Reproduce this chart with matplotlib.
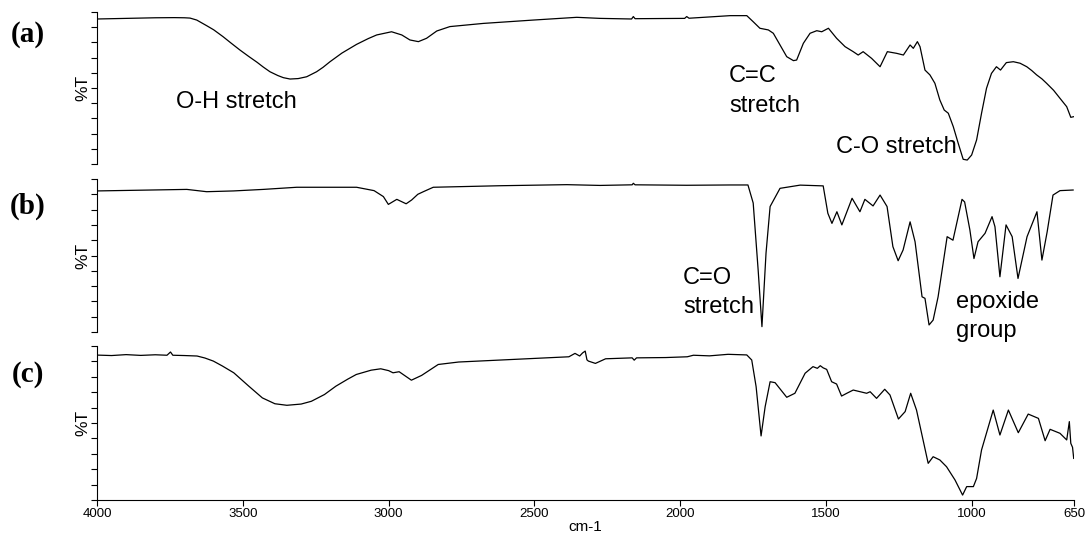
import matplotlib
matplotlib.use('Agg')
from matplotlib import pyplot as plt

# spectrum (a)
wn_a = [4000, 3900, 3800, 3735, 3700, 3681, 3658, 3624, 3600, 3568, 3540, 3510, 3480,
        3451, 3430, 3407, 3380, 3361, 3338, 3310, 3281, 3247, 3225, 3201, 3160, 3110,
        3070, 3041, 2990, 2955, 2927, 2898, 2870, 2835, 2790, 2675, 2504, 2355, 2275,
        2167, 2161, 2155, 1985, 1978, 1970, 1829, 1772, 1750, 1727, 1698, 1681, 1658,
        1635, 1612, 1601, 1578, 1555, 1532, 1515, 1492, 1464, 1435, 1407, 1390, 1373,
        1344, 1315, 1290, 1258, 1235, 1212, 1201, 1187, 1178, 1161, 1144, 1127, 1110,
        1095, 1081, 1064, 1047, 1030, 1016, 1001, 984, 967, 950, 933, 916, 902, 882,
        858, 835, 812, 795, 778, 760, 744, 720, 698, 675, 661, 652]
t_a = [95.4, 95.8, 96.2, 96.3, 96.2, 96.0, 94.7, 91.0, 88.3, 83.8, 79.5, 75.0, 70.8,
       66.9, 63.8, 60.7, 58.2, 56.8, 55.9, 56.2, 57.4, 60.7, 63.6, 67.3, 73.0, 78.7,
       82.5, 84.9, 87.0, 84.9, 81.6, 80.5, 82.7, 87.5, 90.4, 92.5, 94.7, 96.5, 95.8,
       95.4, 97.0, 95.6, 95.8, 97.0, 95.9, 97.6, 97.6, 93.6, 89.3, 88.2, 86.0, 78.3,
       70.6, 68.0, 68.4, 79.4, 86.0, 87.7, 87.0, 89.3, 82.7, 77.2, 73.9, 71.7, 73.9,
       69.5, 64.0, 73.9, 72.8, 71.7, 78.3, 76.1, 80.5, 77.2, 61.8, 58.6, 53.1, 42.1,
       35.5, 33.4, 24.6, 13.6, 3.1, 2.6, 5.9, 15.8, 33.4, 49.8, 59.6, 64.0, 61.8, 66.7,
       67.3, 66.3, 64.0, 61.5, 58.6, 56.0, 53.1, 48.5, 43.2, 37.7, 30.7, 31.1]

# spectrum (b)
wn_b = [4000, 3692, 3624, 3532, 3430, 3315, 3110, 3050, 3018, 3001, 2972, 2940, 2921,
        2900, 2881, 2847, 2618, 2389, 2275, 2165, 2161, 2155, 1978, 1829, 1768, 1750,
        1733, 1720, 1706, 1692, 1658, 1589, 1510, 1494, 1480, 1463, 1446, 1411, 1384,
        1367, 1339, 1315, 1291, 1271, 1253, 1236, 1212, 1195, 1171, 1161, 1147, 1133,
        1116, 1085, 1065, 1034, 1025, 1007, 993, 979, 955, 931, 921, 904, 883, 862, 842,
        811, 777, 760, 742, 722, 698, 653]
t_b = [92.2, 93.2, 91.7, 92.2, 93.2, 94.6, 94.6, 92.4, 88.5, 83.4, 86.7, 83.8, 86.3,
       90.0, 91.7, 94.6, 95.6, 96.3, 95.8, 96.2, 97.2, 96.2, 95.9, 96.1, 96.1, 84.3,
       40.5, 3.5, 51.6, 82.0, 93.9, 96.0, 95.5, 77.6, 71.0, 78.6, 70.0, 87.4, 78.6,
       86.7, 82.4, 89.5, 82.0, 55.8, 46.6, 53.6, 72.0, 59.0, 23.0, 22.0, 4.6, 7.8,
       23.0, 62.3, 60.0, 86.7, 85.0, 66.7, 48.0, 59.0, 64.5, 75.4, 68.8, 36.1, 70.0,
       62.3, 35.0, 62.3, 78.6, 47.0, 65.5, 89.5, 92.4, 92.8]

# spectrum (c)
wn_c = [4000, 3950, 3900, 3850, 3800, 3760, 3748, 3740, 3700, 3657, 3630, 3601, 3570,
        3531, 3480, 3433, 3390, 3349, 3300, 3265, 3220, 3181, 3140, 3111, 3060, 3027,
        3000, 2985, 2964, 2922, 2887, 2830, 2760, 2382, 2361, 2345, 2335, 2326, 2320,
        2315, 2291, 2256, 2165, 2158, 2150, 2050, 1976, 1955, 1900, 1836, 1772, 1755,
        1740, 1723, 1709, 1692, 1675, 1635, 1607, 1572, 1545, 1530, 1520, 1510, 1498,
        1481, 1464, 1447, 1429, 1407, 1361, 1349, 1327, 1299, 1281, 1252, 1229, 1210,
        1190, 1150, 1133, 1110, 1087, 1058, 1032, 1018, 995, 984, 967, 927, 904, 875,
        841, 807, 772, 749, 732, 698, 675, 666, 661, 655, 651]
t_c = [94.1, 93.8, 94.4, 93.9, 94.3, 94.0, 96.1, 94.0, 93.8, 93.5, 92.2, 90.2, 87.0,
       82.6, 74.0, 66.3, 62.5, 61.5, 62.3, 64.1, 68.5, 73.9, 78.5, 81.5, 84.3, 85.2,
       84.0, 82.6, 83.3, 77.8, 80.9, 88.0, 89.6, 93.0, 95.2, 93.5, 95.5, 96.7, 91.0,
       90.2, 88.7, 91.7, 92.3, 90.8, 92.3, 92.5, 93.0, 94.0, 93.6, 94.6, 94.2, 90.9,
       73.6, 41.6, 60.6, 76.8, 76.2, 66.7, 69.3, 82.3, 86.6, 85.5, 87.2, 85.8, 84.8,
       76.8, 75.3, 67.5, 69.3, 71.4, 69.3, 70.3, 66.0, 71.9, 68.2, 52.6, 57.4, 69.3,
       58.4, 23.8, 28.1, 26.0, 21.6, 13.0, 3.2, 8.7, 8.7, 14.0, 32.5, 58.4, 42.2, 58.4,
       43.7, 55.8, 53.0, 38.5, 45.9, 43.3, 39.0, 50.9, 36.8, 34.2, 27.0]

xticks = [4000, 3500, 3000, 2500, 2000, 1500, 1000, 650]
panel_names = ['(a)', '(b)', '(c)']

W, H = 1089, 537
fig = plt.figure(figsize=(W / 100, H / 100), dpi=100)

# panel boxes in pixels: top, bottom
boxes = [(12, 164), (179, 332), (346, 500)]
label_y = [35, 206, 375]
series = [(wn_a, t_a), (wn_b, t_b), (wn_c, t_c)]

axes = []
for i, (top, bot) in enumerate(boxes):
    ax = fig.add_axes([97 / W, 1 - bot / H, (1074 - 97) / W, (bot - top) / H])
    wn, t = series[i]
    ax.plot(wn, t, color='black', lw=0.9)
    ax.set_xlim(4000, 650)
    ax.set_ylim(0, 100)
    ax.set_yticks(range(0, 101, 10))
    ax.set_yticklabels([])
    ax.tick_params(axis='y', direction='out', length=4, width=0.8)
    ax.spines['top'].set_visible(False)
    ax.spines['right'].set_visible(False)
    ax.spines['left'].set_linewidth(0.8)
    ax.set_ylabel('%T', fontsize=12.5, family='Liberation Sans', labelpad=-3)
    if i < 2:
        ax.spines['bottom'].set_visible(False)
        ax.set_xticks([])
    else:
        ax.spines['bottom'].set_linewidth(0.8)
        ax.set_xticks(xticks)
        ax.set_xticklabels([str(v) for v in xticks], fontsize=9.5, family='Liberation Sans')
        ax.tick_params(axis='x', direction='out', length=4, width=0.8, pad=2)
        ax.set_xlabel('cm-1', fontsize=11, family='Liberation Sans', labelpad=0)
    fig.text(28 / W, 1 - label_y[i] / H, panel_names[i], fontsize=21, fontweight='bold',
             family='Liberation Serif', ha='center', va='center')
    axes.append(ax)

ann = dict(fontsize=17, family='Liberation Sans', va='center', ha='left', linespacing=1.42)
axes[0].text(3729, 41, 'O-H stretch', **ann)
axes[0].text(1833, 48, 'C=C\nstretch', **ann)
axes[0].text(1466, 11, 'C-O stretch', **ann)
axes[1].text(1991, 26, 'C=O\nstretch', **ann)
axes[1].text(1054, 10, 'epoxide\ngroup', **ann)

plt.savefig('out.png', dpi=100)
